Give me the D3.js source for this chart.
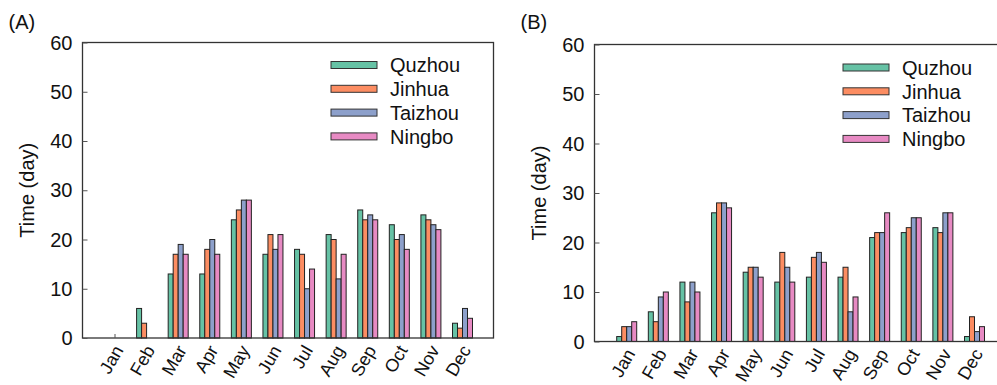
<!DOCTYPE html>
<html>
<head>
<meta charset="utf-8">
<script src="https://cdn.jsdelivr.net/npm/d3@7"></script>
<style>
  body { margin: 0; background: #fff; }
  svg { display: block; font-family: "Liberation Sans", Arial, sans-serif; }
</style>
</head>
<body>
<svg id="chart" width="997" height="385"></svg>
<script>
// Months and cities
const months = ["Jan", "Feb", "Mar", "Apr", "May", "Jun", "Jul", "Aug", "Sep", "Oct", "Nov", "Dec"];
const cities = ["Quzhou", "Jinhua", "Taizhou", "Ningbo"];
const cityColors = ["#66c2a5", "#fc8d62", "#8da0cb", "#e78ac3"];
const yTicks = [0, 10, 20, 30, 40, 50, 60];

// Panel (A) values, days per month
const quzhouA  = [0, 6, 13, 13, 24, 17, 18, 21, 26, 23, 25, 3];
const jinhuaA  = [0, 3, 17, 18, 26, 21, 17, 20, 24, 20, 24, 2];
const taizhouA = [0, 0, 19, 20, 28, 18, 10, 12, 25, 21, 23, 6];
const ningboA  = [0, 0, 17, 17, 28, 21, 14, 17, 24, 18, 22, 4];

// Panel (B) values
const quzhouB  = [1, 6, 12, 26, 14, 12, 13, 13, 21, 22, 23, 1];
const jinhuaB  = [3, 4, 8, 28, 15, 18, 17, 15, 22, 23, 22, 5];
const taizhouB = [3, 9, 12, 28, 15, 15, 18, 6, 22, 25, 26, 2];
const ningboB  = [4, 10, 10, 27, 13, 12, 16, 9, 26, 25, 26, 3];

const svg = d3.select("#chart");

function drawPanel(opts) {
    const { label, left, right, top, bottom, firstX, lastX, values, legendX, legendY, janTick } = opts;
    const g = svg.append("g");

    const x = d3.scalePoint().domain(months).range([firstX, lastX]);
    const xInner = d3.scaleBand().domain(cities).range([-10, 10]);
    const y = d3.scaleLinear().domain([0, 60]).range([bottom, top]);
    const color = d3.scaleOrdinal().domain(cities).range(cityColors);

    // bars
    const rows = [];
    cities.forEach((c, ci) => {
        values[ci].forEach((v, mi) => {
            if (v > 0) rows.push({ city: c, month: months[mi], value: v });
        });
    });

    g.append("g")
        .selectAll("rect")
        .data(rows)
        .enter()
        .append("rect")
        .attr("x", d => x(d.month) + xInner(d.city))
        .attr("y", d => y(d.value))
        .attr("width", xInner.bandwidth())
        .attr("height", d => y(0) - y(d.value))
        .attr("fill", d => color(d.city))
        .attr("stroke", "#222")
        .attr("stroke-width", 1);

    // frame
    g.append("rect")
        .attr("x", left)
        .attr("y", top)
        .attr("width", right - left)
        .attr("height", bottom - top)
        .attr("fill", "none")
        .attr("stroke", "#333")
        .attr("stroke-width", 1.3);

    // y axis (inner ticks)
    const yAxis = d3.axisRight(y).tickValues(yTicks).tickSize(5).tickFormat("");
    g.append("g")
        .attr("transform", `translate(${left},0)`)
        .call(yAxis)
        .call(s => s.select(".domain").remove())
        .call(s => s.selectAll("line").attr("stroke", "#555"));

    g.append("g")
        .selectAll("text")
        .data(yTicks)
        .enter()
        .append("text")
        .attr("x", left - 10)
        .attr("y", d => y(d))
        .attr("dy", "0.36em")
        .attr("text-anchor", "end")
        .attr("font-size", "20px")
        .attr("fill", "#111")
        .text(d => d);

    if (janTick) {
        g.append("line")
            .attr("x1", x("Jan")).attr("x2", x("Jan"))
            .attr("y1", y(0)).attr("y2", y(0) - 4)
            .attr("stroke", "#555");
    }

    // month labels, rotated
    g.append("g")
        .selectAll("text")
        .data(months)
        .enter()
        .append("text")
        .attr("x", d => x(d) + 9)
        .attr("y", bottom + 12)
        .attr("transform", d => `rotate(-60 ${x(d) + 9} ${bottom + 12})`)
        .attr("text-anchor", "end")
        .attr("font-size", "18px")
        .attr("fill", "#111")
        .text(d => d);

    // y axis title
    g.append("text")
        .attr("transform", `translate(${left - 49},${(top + bottom) / 2}) rotate(-90)`)
        .attr("text-anchor", "middle")
        .attr("font-size", "20px")
        .attr("fill", "#111")
        .text("Time (day)");

    // panel label
    g.append("text")
        .attr("x", left - 74)
        .attr("y", 29)
        .attr("font-size", "20px")
        .attr("fill", "#111")
        .text(label);

    // legend
    const leg = g.append("g")
        .selectAll("g")
        .data(cities)
        .enter()
        .append("g")
        .attr("transform", (d, i) => `translate(${legendX},${legendY + i * 23.8})`);

    leg.append("rect")
        .attr("x", 0)
        .attr("y", -3.5)
        .attr("width", 46)
        .attr("height", 7)
        .attr("fill", d => color(d))
        .attr("stroke", "#333")
        .attr("stroke-width", 1);

    leg.append("text")
        .attr("x", 59)
        .attr("y", 0)
        .attr("dy", "0.36em")
        .attr("font-size", "20px")
        .attr("fill", "#111")
        .text(d => d);
}

drawPanel({
    label: "(A)", left: 82.5, right: 493.5, top: 42.5, bottom: 338,
    firstX: 115, lastX: 462.5,
    values: [quzhouA, jinhuaA, taizhouA, ningboA],
    legendX: 331, legendY: 65, janTick: true
});

drawPanel({
    label: "(B)", left: 594.5, right: 1006, top: 44.5, bottom: 341.5,
    firstX: 626.7, lastX: 974.5,
    values: [quzhouB, jinhuaB, taizhouB, ningboB],
    legendX: 843, legendY: 67.5, janTick: false
});
</script>
</body>
</html>
